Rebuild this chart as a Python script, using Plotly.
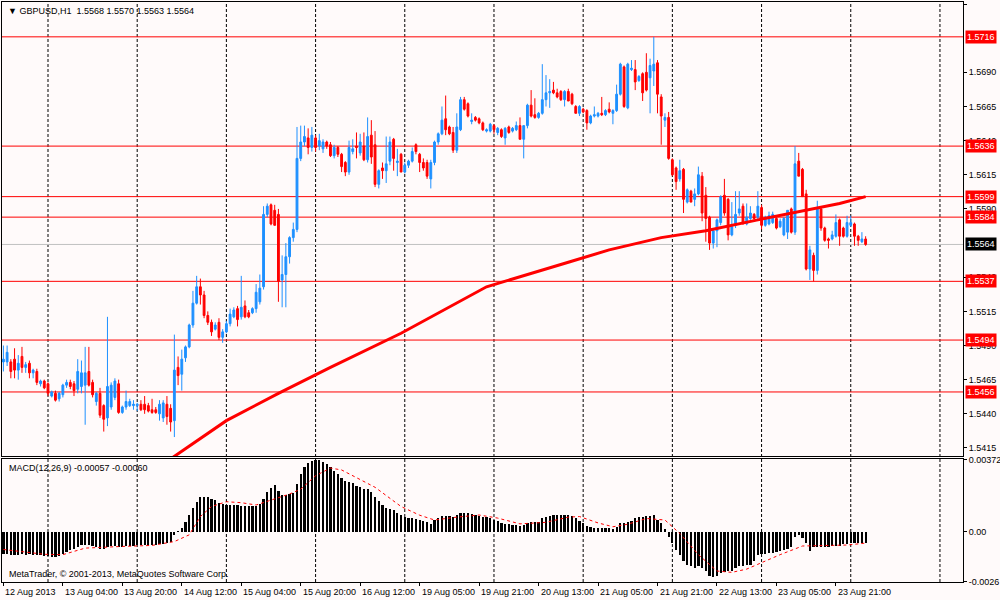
import plotly.graph_objects as go

# GBPUSD H1, 233 bars, left to right (bar number = position on the time scale)
opens = [
    1.5478, 1.5478, 1.5478, 1.5480, 1.5472, 1.5482, 1.5474, 1.5477, 1.5470, 1.5471,
    1.5462, 1.5464, 1.5462, 1.5453, 1.5455, 1.5451, 1.5454, 1.5461, 1.5463, 1.5462,
    1.5458, 1.5460, 1.5461, 1.5471, 1.5463, 1.5449, 1.5455, 1.5446, 1.5437, 1.5445,
    1.5452, 1.5462, 1.5441, 1.5445, 1.5446, 1.5446, 1.5446, 1.5447, 1.5447, 1.5446,
    1.5443, 1.5443, 1.5440, 1.5437, 1.5447, 1.5444, 1.5435, 1.5474, 1.5469, 1.5481,
    1.5489, 1.5505, 1.5521, 1.5533, 1.5527, 1.5512, 1.5507, 1.5502, 1.5507, 1.5496,
    1.5500, 1.5506, 1.5511, 1.5517, 1.5511, 1.5519, 1.5514, 1.5514, 1.5517, 1.5522,
    1.5533, 1.5586, 1.5593, 1.5589, 1.5586, 1.5538, 1.5542, 1.5555, 1.5569, 1.5575,
    1.5627, 1.5639, 1.5642, 1.5635, 1.5642, 1.5636, 1.5634, 1.5639, 1.5637, 1.5629,
    1.5635, 1.5630, 1.5624, 1.5617, 1.5632, 1.5636, 1.5631, 1.5636, 1.5626, 1.5644,
    1.5637, 1.5608, 1.5620, 1.5618, 1.5625, 1.5641, 1.5624, 1.5630, 1.5617, 1.5622,
    1.5625, 1.5637, 1.5630, 1.5624, 1.5624, 1.5612, 1.5624, 1.5639, 1.5645, 1.5656,
    1.5650, 1.5646, 1.5633, 1.5648, 1.5670, 1.5667, 1.5654, 1.5657, 1.5656, 1.5653,
    1.5647, 1.5647, 1.5651, 1.5646, 1.5648, 1.5642, 1.5650, 1.5647, 1.5648, 1.5651,
    1.5641, 1.5651, 1.5666, 1.5659, 1.5657, 1.5660, 1.5670, 1.5675, 1.5677, 1.5675,
    1.5676, 1.5670, 1.5676, 1.5674, 1.5665, 1.5660, 1.5663, 1.5662, 1.5653, 1.5658,
    1.5658, 1.5660, 1.5659, 1.5663, 1.5660, 1.5662, 1.5674, 1.5694, 1.5664, 1.5692,
    1.5692, 1.5684, 1.5689, 1.5690, 1.5686, 1.5691, 1.5697, 1.5672, 1.5655, 1.5657,
    1.5626, 1.5620, 1.5612, 1.5619, 1.5595, 1.5603, 1.5597, 1.5601, 1.5614, 1.5600,
    1.5584, 1.5565, 1.5574, 1.5580, 1.5600, 1.5597, 1.5571, 1.5578, 1.5587, 1.5592,
    1.5579, 1.5583, 1.5586, 1.5584, 1.5591, 1.5578, 1.5579, 1.5580, 1.5583, 1.5577,
    1.5571, 1.5573, 1.5590, 1.5573, 1.5625, 1.5619, 1.5601, 1.5546, 1.5556, 1.5545,
    1.5590, 1.5576, 1.5568, 1.5568, 1.5570, 1.5582, 1.5576, 1.5570, 1.5578, 1.5579,
    1.5570, 1.5566, 1.5568,
]
highs = [
    1.5490, 1.5490, 1.5480, 1.5488, 1.5483, 1.5489, 1.5478, 1.5479, 1.5473, 1.5473,
    1.5465, 1.5465, 1.5463, 1.5457, 1.5457, 1.5456, 1.5462, 1.5465, 1.5465, 1.5464,
    1.5480, 1.5479, 1.5489, 1.5489, 1.5465, 1.5456, 1.5459, 1.5447, 1.5511, 1.5463,
    1.5466, 1.5465, 1.5446, 1.5457, 1.5451, 1.5450, 1.5448, 1.5450, 1.5453, 1.5448,
    1.5451, 1.5445, 1.5450, 1.5450, 1.5453, 1.5447, 1.5498, 1.5482, 1.5487, 1.5490,
    1.5506, 1.5530, 1.5541, 1.5539, 1.5530, 1.5515, 1.5509, 1.5507, 1.5510, 1.5502,
    1.5508, 1.5517, 1.5518, 1.5519, 1.5541, 1.5523, 1.5516, 1.5518, 1.5535, 1.5542,
    1.5592, 1.5594, 1.5594, 1.5593, 1.5590, 1.5556, 1.5565, 1.5570, 1.5580, 1.5650,
    1.5651, 1.5651, 1.5649, 1.5650, 1.5644, 1.5645, 1.5641, 1.5640, 1.5639, 1.5637,
    1.5636, 1.5631, 1.5625, 1.5640, 1.5641, 1.5646, 1.5645, 1.5646, 1.5657, 1.5655,
    1.5647, 1.5619, 1.5624, 1.5643, 1.5643, 1.5642, 1.5634, 1.5631, 1.5624, 1.5626,
    1.5635, 1.5638, 1.5631, 1.5627, 1.5626, 1.5626, 1.5640, 1.5646, 1.5665, 1.5673,
    1.5651, 1.5650, 1.5660, 1.5672, 1.5672, 1.5668, 1.5660, 1.5658, 1.5657, 1.5654,
    1.5649, 1.5653, 1.5652, 1.5650, 1.5649, 1.5650, 1.5651, 1.5650, 1.5654, 1.5657,
    1.5651, 1.5667, 1.5677, 1.5671, 1.5661, 1.5696, 1.5688, 1.5685, 1.5683, 1.5678,
    1.5677, 1.5677, 1.5678, 1.5675, 1.5666, 1.5666, 1.5664, 1.5663, 1.5659, 1.5665,
    1.5661, 1.5672, 1.5663, 1.5668, 1.5663, 1.5681, 1.5697, 1.5695, 1.5697, 1.5699,
    1.5699, 1.5688, 1.5690, 1.5704, 1.5700, 1.5716, 1.5699, 1.5674, 1.5660, 1.5661,
    1.5627, 1.5621, 1.5626, 1.5620, 1.5605, 1.5604, 1.5605, 1.5621, 1.5617, 1.5606,
    1.5585, 1.5574, 1.5583, 1.5600, 1.5612, 1.5598, 1.5595, 1.5603, 1.5603, 1.5594,
    1.5594, 1.5592, 1.5587, 1.5603, 1.5593, 1.5585, 1.5588, 1.5588, 1.5584, 1.5583,
    1.5584, 1.5589, 1.5591, 1.5636, 1.5631, 1.5620, 1.5604, 1.5563, 1.5558, 1.5596,
    1.5592, 1.5577, 1.5569, 1.5574, 1.5586, 1.5583, 1.5577, 1.5585, 1.5585, 1.5580,
    1.5571, 1.5573, 1.5570,
]
lows = [
    1.5471, 1.5475, 1.5466, 1.5466, 1.5465, 1.5470, 1.5470, 1.5466, 1.5466, 1.5461,
    1.5460, 1.5458, 1.5453, 1.5452, 1.5449, 1.5449, 1.5452, 1.5459, 1.5458, 1.5453,
    1.5455, 1.5455, 1.5432, 1.5460, 1.5452, 1.5446, 1.5437, 1.5427, 1.5431, 1.5443,
    1.5450, 1.5440, 1.5440, 1.5443, 1.5445, 1.5443, 1.5442, 1.5442, 1.5440, 1.5441,
    1.5440, 1.5440, 1.5435, 1.5434, 1.5432, 1.5427, 1.5423, 1.5461, 1.5457, 1.5478,
    1.5488, 1.5503, 1.5520, 1.5520, 1.5510, 1.5505, 1.5497, 1.5501, 1.5494, 1.5492,
    1.5499, 1.5504, 1.5510, 1.5504, 1.5509, 1.5510, 1.5510, 1.5513, 1.5514, 1.5520,
    1.5531, 1.5584, 1.5578, 1.5578, 1.5522, 1.5518, 1.5518, 1.5550, 1.5566, 1.5573,
    1.5625, 1.5636, 1.5630, 1.5632, 1.5632, 1.5633, 1.5631, 1.5634, 1.5628, 1.5627,
    1.5628, 1.5617, 1.5614, 1.5615, 1.5630, 1.5627, 1.5629, 1.5625, 1.5624, 1.5623,
    1.5606, 1.5605, 1.5612, 1.5609, 1.5622, 1.5618, 1.5614, 1.5617, 1.5616, 1.5620,
    1.5624, 1.5630, 1.5617, 1.5618, 1.5612, 1.5605, 1.5622, 1.5637, 1.5644, 1.5644,
    1.5644, 1.5631, 1.5631, 1.5647, 1.5662, 1.5657, 1.5652, 1.5654, 1.5652, 1.5647,
    1.5646, 1.5646, 1.5645, 1.5644, 1.5642, 1.5637, 1.5645, 1.5646, 1.5647, 1.5641,
    1.5627, 1.5649, 1.5657, 1.5656, 1.5656, 1.5659, 1.5665, 1.5664, 1.5674, 1.5671,
    1.5669, 1.5665, 1.5669, 1.5666, 1.5660, 1.5658, 1.5660, 1.5648, 1.5652, 1.5657,
    1.5657, 1.5658, 1.5658, 1.5660, 1.5652, 1.5661, 1.5673, 1.5664, 1.5663, 1.5691,
    1.5677, 1.5683, 1.5669, 1.5676, 1.5660, 1.5680, 1.5660, 1.5637, 1.5650, 1.5626,
    1.5614, 1.5604, 1.5610, 1.5587, 1.5594, 1.5595, 1.5592, 1.5600, 1.5581, 1.5566,
    1.5560, 1.5561, 1.5562, 1.5578, 1.5585, 1.5567, 1.5570, 1.5576, 1.5585, 1.5579,
    1.5578, 1.5582, 1.5582, 1.5582, 1.5575, 1.5577, 1.5578, 1.5579, 1.5575, 1.5576,
    1.5570, 1.5568, 1.5572, 1.5571, 1.5614, 1.5599, 1.5545, 1.5538, 1.5537, 1.5542,
    1.5574, 1.5566, 1.5561, 1.5567, 1.5569, 1.5563, 1.5569, 1.5569, 1.5577, 1.5563,
    1.5563, 1.5565, 1.5563,
]
closes = [
    1.5480, 1.5485, 1.5471, 1.5472, 1.5477, 1.5474, 1.5476, 1.5470, 1.5472, 1.5463,
    1.5464, 1.5459, 1.5455, 1.5456, 1.5450, 1.5455, 1.5461, 1.5463, 1.5460, 1.5457,
    1.5471, 1.5470, 1.5470, 1.5461, 1.5454, 1.5455, 1.5439, 1.5436, 1.5460, 1.5461,
    1.5464, 1.5441, 1.5445, 1.5449, 1.5449, 1.5447, 1.5447, 1.5443, 1.5443, 1.5442,
    1.5441, 1.5441, 1.5447, 1.5448, 1.5438, 1.5434, 1.5472, 1.5468, 1.5480, 1.5489,
    1.5505, 1.5521, 1.5533, 1.5527, 1.5512, 1.5507, 1.5500, 1.5505, 1.5496, 1.5500,
    1.5506, 1.5513, 1.5516, 1.5509, 1.5518, 1.5511, 1.5511, 1.5517, 1.5529, 1.5532,
    1.5586, 1.5592, 1.5579, 1.5578, 1.5537, 1.5542, 1.5555, 1.5569, 1.5575, 1.5627,
    1.5639, 1.5643, 1.5635, 1.5644, 1.5635, 1.5640, 1.5639, 1.5636, 1.5629, 1.5635,
    1.5630, 1.5621, 1.5617, 1.5635, 1.5634, 1.5635, 1.5639, 1.5626, 1.5643, 1.5628,
    1.5608, 1.5618, 1.5618, 1.5623, 1.5639, 1.5627, 1.5625, 1.5617, 1.5622, 1.5625,
    1.5632, 1.5632, 1.5624, 1.5620, 1.5614, 1.5624, 1.5639, 1.5645, 1.5655, 1.5648,
    1.5645, 1.5633, 1.5650, 1.5670, 1.5663, 1.5658, 1.5655, 1.5655, 1.5653, 1.5648,
    1.5648, 1.5652, 1.5648, 1.5649, 1.5643, 1.5649, 1.5646, 1.5649, 1.5651, 1.5641,
    1.5651, 1.5666, 1.5658, 1.5657, 1.5660, 1.5670, 1.5675, 1.5676, 1.5675, 1.5672,
    1.5670, 1.5676, 1.5669, 1.5667, 1.5660, 1.5665, 1.5661, 1.5653, 1.5658, 1.5659,
    1.5660, 1.5659, 1.5662, 1.5661, 1.5662, 1.5674, 1.5696, 1.5665, 1.5696, 1.5693,
    1.5683, 1.5687, 1.5675, 1.5677, 1.5695, 1.5696, 1.5674, 1.5658, 1.5657, 1.5627,
    1.5615, 1.5610, 1.5618, 1.5597, 1.5604, 1.5595, 1.5601, 1.5615, 1.5587, 1.5583,
    1.5565, 1.5574, 1.5582, 1.5599, 1.5587, 1.5571, 1.5577, 1.5586, 1.5590, 1.5579,
    1.5584, 1.5587, 1.5583, 1.5592, 1.5578, 1.5584, 1.5585, 1.5586, 1.5576, 1.5581,
    1.5583, 1.5589, 1.5573, 1.5623, 1.5614, 1.5599, 1.5546, 1.5560, 1.5545, 1.5591,
    1.5576, 1.5567, 1.5567, 1.5571, 1.5580, 1.5570, 1.5570, 1.5580, 1.5580, 1.5570,
    1.5567, 1.5568, 1.5564,
]

# long moving average (red thick line), read at a few bars
ma_bars = [45, 60, 74, 88, 107, 130, 152, 163, 177, 189, 203, 216, 225, 232]
ma_values = [1.5407, 1.5435, 1.5455, 1.5474, 1.5499, 1.5533, 1.5551, 1.5560,
             1.5569, 1.5574, 1.5582, 1.5589, 1.5594, 1.5599]

# MACD(12,26,9) histogram, one value per bar
macd_main = [
    -0.00118, -0.00119, -0.00120, -0.00121, -0.00120, -0.00119, -0.00120, -0.00119, -0.00121, -0.00122,
    -0.00124, -0.00126, -0.00128, -0.00130, -0.00131, -0.00127, -0.00118, -0.00108, -0.00098, -0.00088,
    -0.00078, -0.00072, -0.00070, -0.00070, -0.00074, -0.00078, -0.00090, -0.00088, -0.00078, -0.00076,
    -0.00074, -0.00078, -0.00078, -0.00076, -0.00075, -0.00074, -0.00072, -0.00071, -0.00071, -0.00070,
    -0.00070, -0.00069, -0.00066, -0.00062, -0.00058, -0.00052, -0.00017, 0.00002, 0.00017, 0.00052,
    0.00086, 0.00120, 0.00155, 0.00178, 0.00180, 0.00178, 0.00170, 0.00162, 0.00150, 0.00142,
    0.00140, 0.00139, 0.00138, 0.00136, 0.00135, 0.00134, 0.00132, 0.00131, 0.00135, 0.00142,
    0.00170, 0.00208, 0.00228, 0.00240, 0.00210, 0.00192, 0.00190, 0.00195, 0.00200, 0.00245,
    0.00300, 0.00335, 0.00355, 0.00368, 0.00372, 0.00370, 0.00362, 0.00352, 0.00335, 0.00315,
    0.00300, 0.00280, 0.00262, 0.00258, 0.00250, 0.00238, 0.00230, 0.00222, 0.00220, 0.00208,
    0.00180, 0.00160, 0.00140, 0.00125, 0.00118, 0.00110, 0.00098, 0.00088, 0.00078, 0.00072,
    0.00068, 0.00066, 0.00062, 0.00055, 0.00048, 0.00040, 0.00058, 0.00070, 0.00080, 0.00082,
    0.00080, 0.00078, 0.00085, 0.00095, 0.00097, 0.00095, 0.00090, 0.00086, 0.00082, 0.00078,
    0.00074, 0.00070, 0.00062, 0.00055, 0.00045, 0.00040, 0.00037, 0.00035, 0.00034, 0.00028,
    0.00032, 0.00042, 0.00048, 0.00050, 0.00052, 0.00068, 0.00076, 0.00082, 0.00086, 0.00087,
    0.00086, 0.00086, 0.00084, 0.00080, 0.00070, 0.00056, 0.00042, 0.00030, 0.00025, 0.00020,
    0.00018, 0.00017, 0.00017, 0.00018, 0.00016, 0.00025, 0.00045, 0.00045, 0.00050, 0.00055,
    0.00068, 0.00074, 0.00076, 0.00080, 0.00082, 0.00085, 0.00062, 0.00043, 0.00015, -0.00026,
    -0.00060, -0.00095, -0.00120, -0.00155, -0.00172, -0.00180, -0.00188, -0.00180, -0.00188, -0.00205,
    -0.00232, -0.00238, -0.00232, -0.00215, -0.00208, -0.00207, -0.00203, -0.00190, -0.00180, -0.00178,
    -0.00176, -0.00172, -0.00155, -0.00122, -0.00118, -0.00115, -0.00112, -0.00110, -0.00108, -0.00102,
    -0.00096, -0.00090, -0.00078, -0.00026, -0.00017, -0.00034, -0.00060, -0.00103, -0.00078, -0.00080,
    -0.00082, -0.00080, -0.00078, -0.00076, -0.00074, -0.00074, -0.00066, -0.00062, -0.00060, -0.00060,
    -0.00060, -0.00059, -0.00057,
]
# signal line (red dotted), read at a few bars
signal_bars = [0, 11, 16, 22, 31, 40, 46, 50, 53, 56, 60, 64, 68, 72, 77, 80, 84, 88, 91, 95,
               100, 107, 112, 116, 122, 128, 133, 139, 146, 152, 155, 160, 164, 168, 173, 178,
               182, 187, 192, 196, 200, 203, 209, 215, 222, 227, 232]
signal_values = [-0.00093, -0.00118, -0.00120, -0.00086, -0.00078, -0.00072, -0.00052, -0.00017,
                 0.00078, 0.00130, 0.00155, 0.00150, 0.00138, 0.00165, 0.00195, 0.00220, 0.00290,
                 0.00330, 0.00320, 0.00280, 0.00230, 0.00130, 0.00085, 0.00060, 0.00075, 0.00086,
                 0.00070, 0.00040, 0.00048, 0.00075, 0.00078, 0.00045, 0.00025, 0.00038, 0.00068,
                 0.00060, -0.00010, -0.00120, -0.00205, -0.00212, -0.00195, -0.00170, -0.00120,
                 -0.00075, -0.00072, -0.00070, -0.00060]

# horizontal support / resistance levels and the current bid
levels = [1.5716, 1.5636, 1.5599, 1.5584, 1.5537, 1.5494, 1.5456]
bid = 1.5564

# time scale: a label every 16 bars, a grid line every 24 bars
label_bars = [0, 16, 32, 48, 64, 80, 96, 112, 128, 144, 160, 176, 192, 208, 224]
time_labels = ["12 Aug 2013", "13 Aug 04:00", "13 Aug 20:00", "14 Aug 12:00", "15 Aug 04:00",
               "15 Aug 20:00", "16 Aug 12:00", "19 Aug 05:00", "19 Aug 21:00", "20 Aug 13:00",
               "21 Aug 05:00", "21 Aug 21:00", "22 Aug 13:00", "23 Aug 05:00", "23 Aug 21:00"]
grid_bars = [12, 36, 60, 84, 108, 132, 156, 180, 204, 228, 252]

# price scale labels (1.5715 and 1.5565 sit fully under the level tags, so left out)
price_ticks = [1.5415, 1.5440, 1.5465, 1.5490, 1.5515, 1.5540, 1.5590,
               1.5615, 1.5640, 1.5665, 1.5690, 1.5740]

bars = list(range(len(closes)))
FONT = "Tahoma, Liberation Sans, Arial, sans-serif"
FS = 9
BG = "#FFFAFA"

fig = go.Figure()

fig.add_trace(go.Candlestick(
    x=bars, open=opens, high=highs, low=lows, close=closes,
    increasing=dict(line=dict(color="#1E90FF", width=1), fillcolor="#1E90FF"),
    decreasing=dict(line=dict(color="#FF0000", width=1), fillcolor="#FF0000"),
    whiskerwidth=0, xaxis="x", yaxis="y", hoverinfo="skip",
))
fig.add_trace(go.Scatter(
    x=ma_bars, y=ma_values, mode="lines",
    line=dict(color="#FF0000", width=3), xaxis="x", yaxis="y", hoverinfo="skip",
))
fig.add_trace(go.Bar(
    x=bars, y=macd_main, marker=dict(color="black", line=dict(width=0)),
    width=0.6, xaxis="x2", yaxis="y2", hoverinfo="skip",
))
fig.add_trace(go.Scatter(
    x=signal_bars, y=signal_values, mode="lines",
    line=dict(color="#FF0000", width=1, dash="dot"), xaxis="x2", yaxis="y2", hoverinfo="skip",
))

shapes = []
for g in grid_bars:
    shapes.append(dict(type="line", xref="x", yref="paper", x0=g, x1=g, y0=0, y1=1,
                       line=dict(color="black", width=1, dash="3px,2px"), layer="below"))
for lv in levels:
    shapes.append(dict(type="line", xref="paper", yref="y", x0=0, x1=1, y0=lv, y1=lv,
                       line=dict(color="#FF0000", width=1), layer="below"))
shapes.append(dict(type="line", xref="paper", yref="y", x0=0, x1=1, y0=bid, y1=bid,
                   line=dict(color="#C0C0C0", width=1), layer="below"))

annotations = []
for lv in levels:
    annotations.append(dict(xref="paper", yref="y", x=1, y=lv, xanchor="left", yanchor="middle",
                            xshift=2, text=f"{lv:.4f}", showarrow=False, bgcolor="#FF0000",
                            borderpad=1, font=dict(color="white", size=FS, family=FONT)))
annotations.append(dict(xref="paper", yref="y", x=1, y=bid, xanchor="left", yanchor="middle",
                        xshift=2, text=f"{bid:.4f}", showarrow=False, bgcolor="black",
                        borderpad=1, font=dict(color="white", size=FS, family=FONT)))
for b, t in zip(label_bars, time_labels):
    annotations.append(dict(xref="x2", yref="paper", x=b, y=0, xanchor="left", yanchor="top",
                            xshift=0, yshift=-3, text=t, showarrow=False,
                            font=dict(color="black", size=FS, family=FONT)))
annotations.append(dict(xref="paper", yref="paper", x=0, y=1, xanchor="left", yanchor="top",
                        xshift=4, yshift=-2, showarrow=False,
                        text="\u25bc GBPUSD,H1  1.5568 1.5570 1.5563 1.5564",
                        font=dict(color="black", size=FS, family=FONT)))
annotations.append(dict(xref="paper", yref="paper", x=0, y=0.2121, xanchor="left", yanchor="top",
                        xshift=5, yshift=-2, showarrow=False,
                        text="MACD(12,26,9) -0.00057 -0.00060",
                        font=dict(color="black", size=FS, family=FONT)))
annotations.append(dict(xref="paper", yref="paper", x=0, y=0, xanchor="left", yanchor="bottom",
                        xshift=5, yshift=1, showarrow=False,
                        text="MetaTrader, \u00a9 2001-2013, MetaQuotes Software Corp.",
                        font=dict(color="black", size=FS, family=FONT)))

axis_common = dict(showgrid=False, zeroline=False, showline=True, mirror=True,
                   linecolor="black", linewidth=1, automargin=False)

fig.update_layout(
    width=1000, height=600,
    margin=dict(l=2, r=37, t=2, b=18, autoexpand=False),
    paper_bgcolor=BG, plot_bgcolor=BG,
    showlegend=False,
    font=dict(family=FONT, size=FS, color="black"),
    bargap=0,
    xaxis=dict(domain=[0, 1], anchor="y", range=[-0.377, 258.2], showticklabels=False,
               ticks="", rangeslider=dict(visible=False), **axis_common),
    yaxis=dict(domain=[0.2172, 1], anchor="x", side="right", range=[1.54091, 1.57415],
               tickvals=price_ticks, tickformat=".4f", ticks="outside", ticklen=3,
               tickcolor="black", tickfont=dict(size=FS, family=FONT), **axis_common),
    xaxis2=dict(domain=[0, 1], anchor="y2", matches="x", tickvals=label_bars,
                showticklabels=False, ticks="outside", ticklen=3, tickcolor="black",
                **axis_common),
    yaxis2=dict(domain=[0, 0.2121], anchor="x2", side="right", range=[-0.00262, 0.00377],
                tickvals=[0.00372, 0.0, -0.0026], ticktext=["0.00372", "0.00", "-0.0026"],
                ticks="outside", ticklen=3, tickcolor="black",
                tickfont=dict(size=FS, family=FONT), **axis_common),
    shapes=shapes,
    annotations=annotations,
)

fig.write_html("out.html", config={"displayModeBar": False},
               post_script="document.body.style.margin='0';")
